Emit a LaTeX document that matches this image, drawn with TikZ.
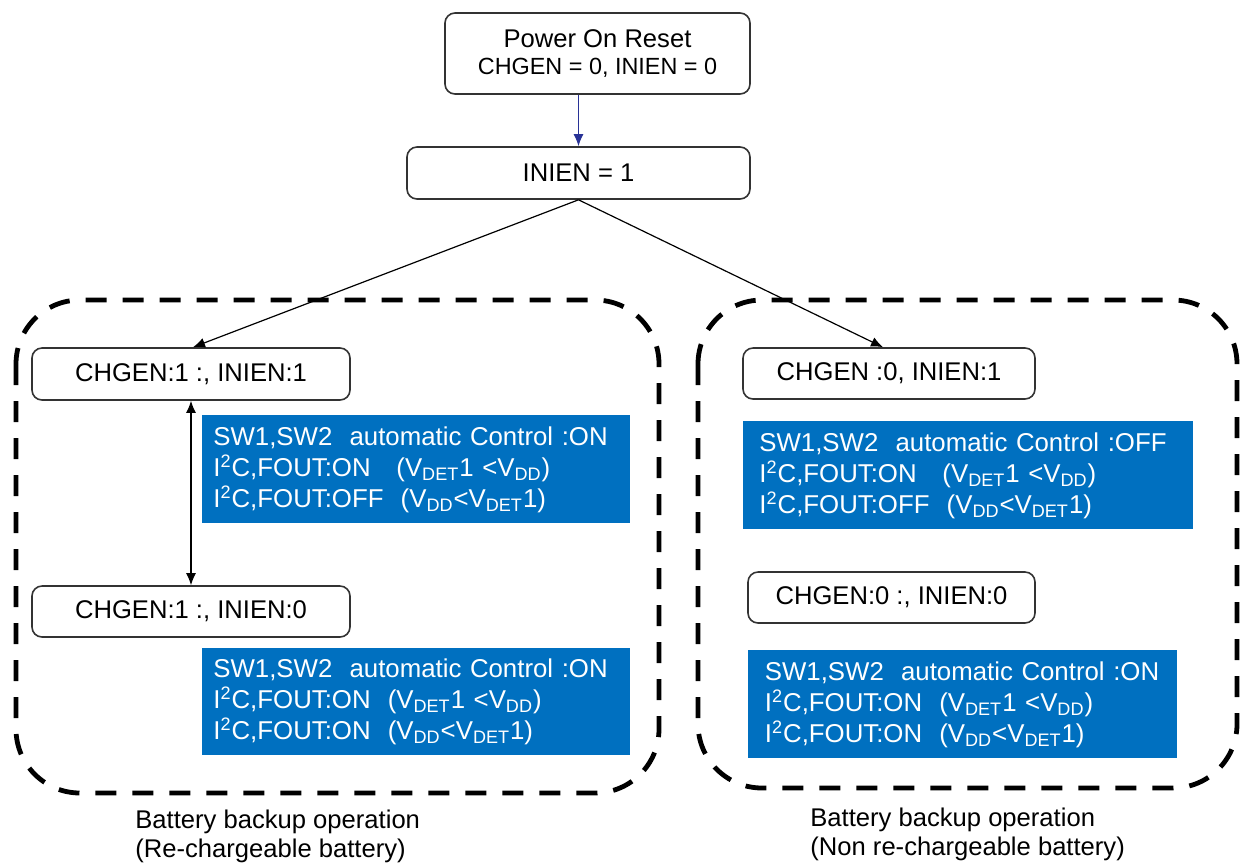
\documentclass[tikz,border=0pt]{standalone}
\usepackage{fontspec}
\setmainfont{Liberation Sans}
\usetikzlibrary{arrows.meta}

\definecolor{infoblue}{RGB}{0,112,192}
\definecolor{resetblue}{RGB}{40,50,150}

\newcommand{\vdet}{V\textsubscript{DET}}
\newcommand{\vdd}{V\textsubscript{DD}}
\newcommand{\iic}{I\textsuperscript{2}C}

\tikzset{
	statebox/.style={draw=black!80, line width=0.8pt, rounded corners=5pt, inner sep=0pt, align=center, font=\fontsize{12.8}{13.5}\selectfont},
	infobox/.style={fill=infoblue, text=white, align=left, anchor=north west, inner ysep=0pt, font=\fontsize{12.9}{15.5}\selectfont},
	groupbox/.style={line width=2.4pt, dash pattern=on 10.5pt off 8pt, rounded corners=32pt},
	caption/.style={anchor=north west, inner sep=0pt, align=left, font=\fontsize{12.8}{14.5}\selectfont},
	flow/.style={-{Latex[length=6pt,width=5pt]}, line width=0.6pt}
}

\begin{document}
\begin{tikzpicture}[x=0.5pt, y=-0.5pt]
	\useasboundingbox (0,0) rectangle (1240,864);

	% top of the flow
	\node (por) [statebox, minimum width=152.5pt, minimum height=40.5pt] at (597.5,53.5) {Power On Reset\\\fontsize{11.7}{13.5}\selectfont CHGEN = 0, INIEN = 0};
	\node (inien) [statebox, minimum width=171.5pt, minimum height=26pt] at (578.5,173) {INIEN = 1};

	% re-chargeable battery
	\draw [groupbox] (16,300) rectangle (659,793);
	\node (chgA) [statebox, minimum width=159pt, minimum height=26pt] at (191,374) {CHGEN:1 :, INIEN:1};
	\node (infoA) [infobox, text width=203pt, inner xsep=5.5pt, minimum height=54pt] at (202,415) {SW1,SW2\ \ automatic Control :ON\\\iic,FOUT:ON\ \ \ (\vdet1 <\vdd)\\\iic,FOUT:OFF\ \ (\vdd<\vdet1)};
	\node (chgB) [statebox, minimum width=159pt, minimum height=25.5pt] at (191,611.5) {CHGEN:1 :, INIEN:0};
	\node (infoB) [infobox, text width=203pt, inner xsep=5.5pt, minimum height=53.5pt] at (202,648) {SW1,SW2\ \ automatic Control :ON\\\iic,FOUT:ON\ \ (\vdet1 <\vdd)\\\iic,FOUT:ON\ \ (\vdd<\vdet1)};
	\node (capA) [caption] at (135,810) {Battery backup operation\\(Re-chargeable battery)};

	% non re-chargeable battery
	\draw [groupbox] (698,300) rectangle (1237,788);
	\node (chgC) [statebox, minimum width=146pt, minimum height=25.5pt] at (889,373.5) {CHGEN :0, INIEN:1};
	\node (infoC) [infobox, text width=209pt, inner xsep=8pt, minimum height=54pt] at (743,421) {SW1,SW2\ \ automatic Control :OFF\\\iic,FOUT:ON\ \ \ (\vdet1 <\vdd)\\\iic,FOUT:OFF\ \ (\vdd<\vdet1)};
	\node (chgD) [statebox, minimum width=143.5pt, minimum height=25.5pt] at (891.5,597.5) {CHGEN:0 :, INIEN:0};
	\node (infoD) [infobox, text width=198pt, inner xsep=8.25pt, minimum height=54pt] at (748,650) {SW1,SW2\ \ automatic Control :ON\\\iic,FOUT:ON\ \ (\vdet1 <\vdd)\\\iic,FOUT:ON\ \ (\vdd<\vdet1)};
	\node (capC) [caption] at (810,808) {Battery backup operation\\(Non re-chargeable battery)};

	% connectors
	\draw [flow, draw=resetblue, -{Latex[length=6pt,width=5pt,fill=resetblue]}] (por.south -| inien.north) -- (inien.north);
	\draw [flow] (inien.south) -- ([xshift=1pt]chgA.north);
	\draw [flow] (inien.south) -- ([xshift=-3pt]chgC.north);
	\draw [flow, {Latex[length=6pt,width=5pt]}-{Latex[length=6pt,width=5pt]}] (chgA.south) -- (chgB.north);
\end{tikzpicture}
\end{document}
